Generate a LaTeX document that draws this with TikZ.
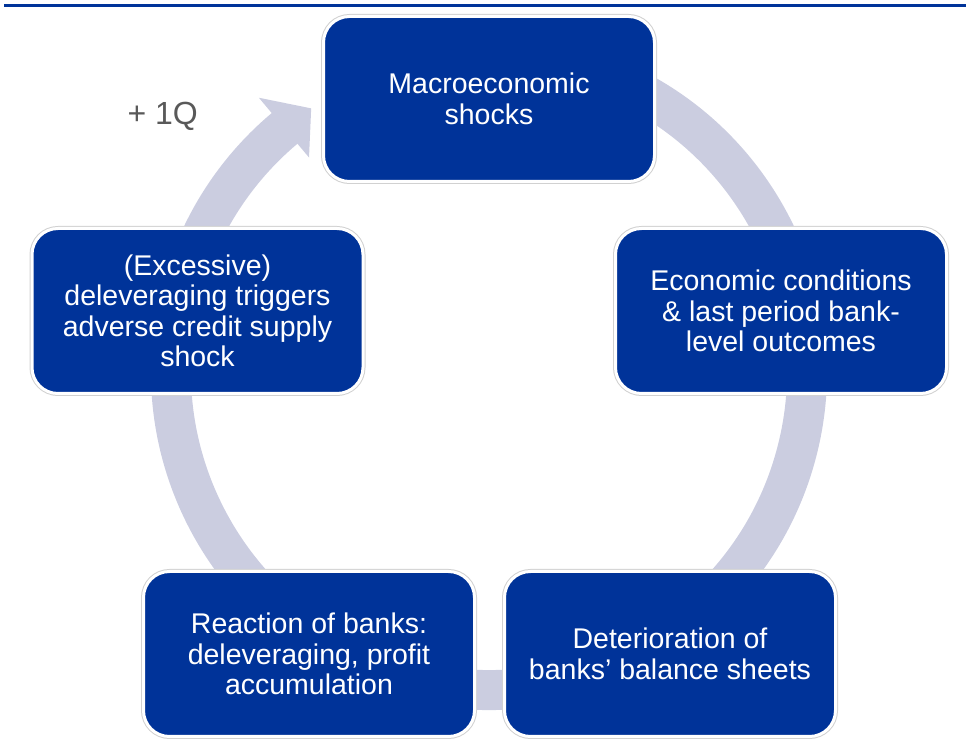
\documentclass[tikz,border=0pt]{standalone}
\usepackage{fontspec}
\setmainfont{Liberation Sans}
\definecolor{boxblue}{HTML}{003399}
\definecolor{ringgray}{HTML}{CBCDE0}
\definecolor{labelgray}{HTML}{595959}

\def\rmid{318}
\def\rw{40}
\def\stage#1#2#3{
	\node[box] (#1) at (#2) {#3};
}

\begin{document}
\begin{tikzpicture}[x=1pt,y=1pt,
	box/.style={rounded corners=26pt,fill=boxblue,draw=white,line width=3pt,
		preaction={draw=black!18,line width=5pt},
		minimum width=331pt,minimum height=165pt,inner sep=0pt,
		text=white,align=center,font=\fontsize{28.5}{30.5}\selectfont}]
\useasboundingbox (0,0) rectangle (970,747);
\draw[boxblue,line width=3pt] (4,741.5) -- (966,741.5);
\coordinate (c) at (489,375);
\coordinate (p0) at (489,648);
\coordinate (p1) at (781,436);
\coordinate (p2) at (670,93);
\coordinate (p3) at (309,93);
\coordinate (p4) at (197.5,436);
% cycle arrow behind the boxes
\draw[ringgray,line width=\rw pt] (c) ++(75:\rmid) arc[start angle=75,end angle=-231,radius=\rmid];
\fill[ringgray] ([shift={(130:358)}]c) -- ([shift={(124:\rmid)}]c) -- ([shift={(130:280)}]c) -- cycle;
\stage{shocks}{p0}{Macroeconomic\\shocks}
\stage{cond}{p1}{Economic conditions\\\& last period bank-\\level outcomes}
\stage{deter}{p2}{Deterioration of\\banks’ balance sheets}
\stage{react}{p3}{Reaction of banks:\\deleveraging, profit\\accumulation}
\stage{delev}{p4}{(Excessive)\\deleveraging triggers\\adverse credit supply\\shock}
\node[anchor=base west,text=labelgray,font=\fontsize{32}{38}\selectfont] (lag) at (124,622) {+ 1Q};
\end{tikzpicture}
\end{document}
